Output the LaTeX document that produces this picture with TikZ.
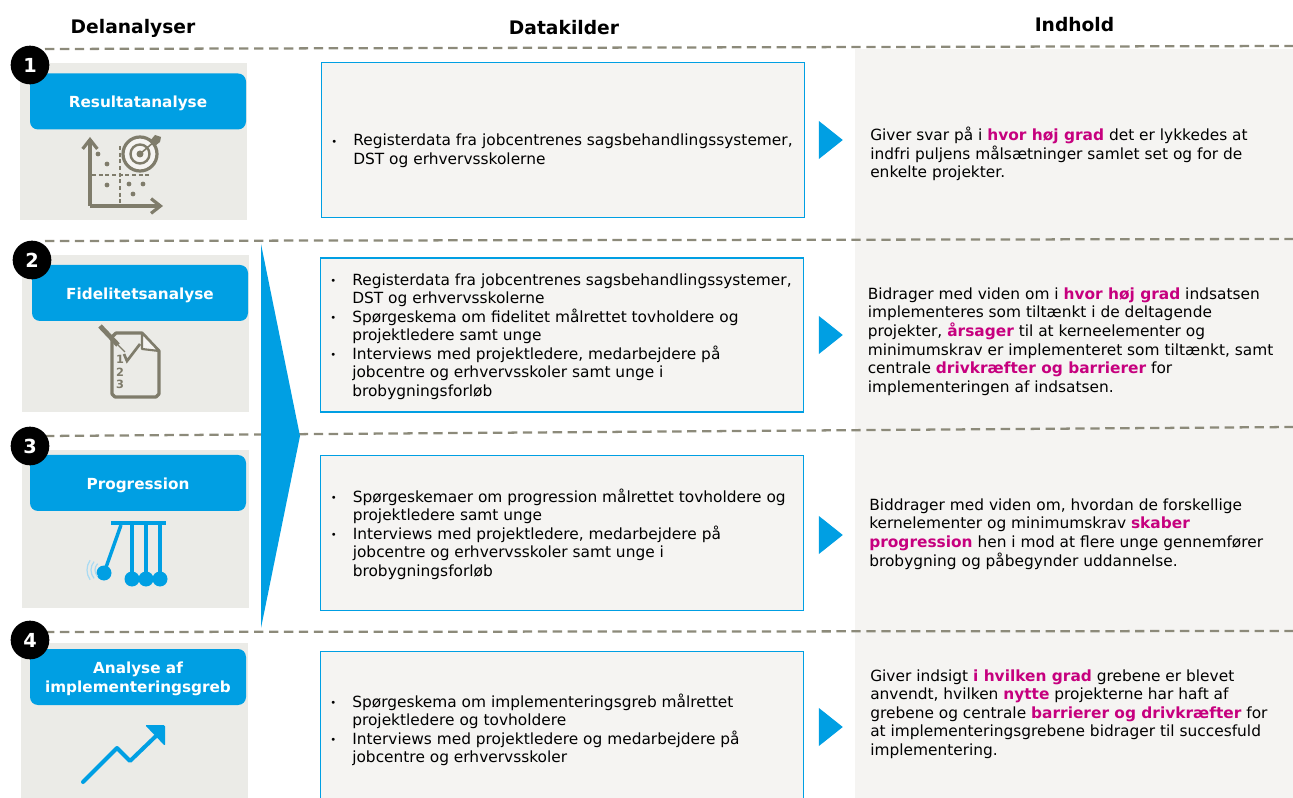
\documentclass[tikz,border=0pt]{standalone}
\usepackage{fontspec}
\setmainfont{DejaVu Sans}
\usepackage{tikz}
\usetikzlibrary{arrows.meta,shapes,positioning}
\definecolor{kblue}{HTML}{009FE3}
\definecolor{kpink}{HTML}{C6007E}
\definecolor{kgrey}{HTML}{7F7C6B}
\definecolor{kdash}{HTML}{8C8A7A}
\definecolor{kpanel}{HTML}{EBEBE7}
\definecolor{kback}{HTML}{F5F4F2}
\definecolor{kwave}{HTML}{A9DAF3}
\newcommand{\fremhaev}[1]{\textcolor{kpink}{\textbf{#1}}}
\newcommand{\punkt}{\leavevmode\llap{\raisebox{0.6pt}{\fontsize{7.5}{8}\selectfont\textbullet}\hspace{12pt}}}

\begin{document}
\begin{tikzpicture}[x=0.75pt, y=-0.75pt]
    \tikzstyle{panel} = [rectangle, fill=kpanel, minimum width=170.25pt, minimum height=117.75pt, inner sep=0pt]
    \tikzstyle{bluebox} = [rectangle, fill=kblue, rounded corners=6pt, minimum width=162pt, minimum height=42pt, inner sep=0pt]
    \tikzstyle{boxlabel} = [align=center, inner sep=0pt, text=white, font=\fontsize{11.45}{14}\selectfont\bfseries]
    \tikzstyle{numdot} = [circle, fill=black, minimum size=29pt, inner sep=0pt, text=white, font=\fontsize{14.5}{16}\selectfont\bfseries]
    \tikzstyle{databox} = [rectangle, draw=kblue, line width=1.1pt, fill=kback, minimum width=362.5pt, inner sep=0pt]
    \tikzstyle{bodytext} = [anchor=west, align=left, inner sep=0pt, font=\fontsize{11.55}{13.9}\selectfont]
    \tikzstyle{head} = [font=\fontsize{14}{16}\selectfont\bfseries]
    \tikzstyle{tip} = [isosceles triangle, isosceles triangle apex angle=77, fill=kblue, inner sep=0pt, minimum height=18pt]
    \tikzstyle{dashline} = [kdash, line width=1.7pt, dash pattern=on 7pt off 4.2pt]
    \tikzstyle{iconline} = [kgrey, line width=2.4pt]
    \tikzstyle{iconthin} = [kgrey, line width=0.9pt, dash pattern=on 3pt off 2pt]
    \tikzstyle{iconnum} = [text=kgrey, inner sep=0pt, font=\fontsize{8.5}{9}\selectfont\bfseries]
    \useasboundingbox (0,0) rectangle (1293,798);
    \clip (0,0) rectangle (1293,798);

    \node [rectangle, fill=kback, minimum width=328.5pt, minimum height=562pt, inner sep=0pt] (backdrop) at (1074,423.5) {};

    \node [panel] (panel1) at (133.5,141.5) {};
    \node [panel] (panel2) at (135,333.5) {};
    \node [panel] (panel3) at (135.5,529) {};
    \node [panel] (panel4) at (134.5,721) {};

    \node [bluebox] (result) at (138,101.5) {};
    \node [bluebox] (fidelitet) at (140,293) {};
    \node [bluebox] (progress) at (138,483) {};
    \node [bluebox] (greb) at (138,677) {};
    \node [boxlabel] (resultlabel) at (138,103) {Resultatanalyse};
    \node [boxlabel] (fidelitetlabel) at (140,295) {Fidelitetsanalyse};
    \node [boxlabel] (progresslabel) at (138,485) {Progression};
    \node [boxlabel] (greblabel) at (138,679) {Analyse af\\implementeringsgreb};

    \coordinate (dash1a) at (45,49);
    \coordinate (dash1b) at (1293,46);
    \coordinate (dash2a) at (45,241);
    \coordinate (dash2b) at (1293,239);
    \coordinate (dash3a) at (45,436);
    \coordinate (dash3b) at (1293,427);
    \coordinate (dash4a) at (45,632);
    \coordinate (dash4b) at (1293,631);
    \draw [dashline] (dash1a) -- (dash1b);
    \draw [dashline] (dash2a) -- (dash2b);
    \draw [dashline] (dash3a) -- (dash3b);
    \draw [dashline] (dash4a) -- (dash4b);

    \node [numdot] (num1) at (30,65) {1};
    \node [numdot] (num2) at (32,260) {2};
    \node [numdot] (num3) at (30,446) {3};
    \node [numdot] (num4) at (30,640) {4};

    \fill [kblue] (261,244) -- (300,436) -- (261,628) -- cycle;

    \node [head] (col1) at (133,28) {Delanalyser};
    \node [head] (col2) at (564,28) {Datakilder};
    \node [head] (col3) at (1074.5,25) {Indhold};

    \node [databox, minimum height=116.5pt] (data1) at (563,140) {};
    \node [databox, minimum height=115.5pt] (data2) at (562,335) {};
    \node [databox, minimum height=116.5pt] (data3) at (562,533) {};
    \node [databox, minimum height=116.5pt] (data4) at (562,729) {};

    \node [tip] (tip1) at (828,140) {};
    \node [tip] (tip2) at (828,335) {};
    \node [tip] (tip3) at (828,535) {};
    \node [tip] (tip4) at (828,727) {};

    \node [bodytext] (kilde1) at (353,151) {\punkt Registerdata fra jobcentrenes sagsbehandlingssystemer,\\DST og erhvervsskolerne};
    \node [bodytext] (kilde2) at (352,336.5) {\punkt Registerdata fra jobcentrenes sagsbehandlingssystemer,\\DST og erhvervsskolerne\\\punkt Spørgeskema om fidelitet målrettet tovholdere og\\projektledere samt unge\\\punkt Interviews med projektledere, medarbejdere på\\jobcentre og erhvervsskoler samt unge i\\brobygningsforløb};
    \node [bodytext] (kilde3) at (352.5,534) {\punkt Spørgeskemaer om progression målrettet tovholdere og\\projektledere samt unge\\\punkt Interviews med projektledere, medarbejdere på\\jobcentre og erhvervsskoler samt unge i\\brobygningsforløb};
    \node [bodytext] (kilde4) at (352,730) {\punkt Spørgeskema om implementeringsgreb målrettet\\projektledere og tovholdere\\\punkt Interviews med projektledere og medarbejdere på\\jobcentre og erhvervsskoler};

    \node [bodytext] (svar1) at (870,154) {Giver svar på i \fremhaev{hvor høj grad} det er lykkedes at\\indfri puljens målsætninger samlet set og for de\\enkelte projekter.};
    \node [bodytext] (svar2) at (867.5,341.5) {Bidrager med viden om i \fremhaev{hvor høj grad} indsatsen\\implementeres som tiltænkt i de deltagende\\projekter, \fremhaev{årsager} til at kerneelementer og\\minimumskrav er implementeret som tiltænkt, samt\\centrale \fremhaev{drivkræfter og barrierer} for\\implementeringen af indsatsen.};
    \node [bodytext] (svar3) at (869,534) {Biddrager med viden om, hvordan de forskellige\\kernelementer og minimumskrav \fremhaev{skaber}\\\fremhaev{progression} hen i mod at flere unge gennemfører\\brobygning og påbegynder uddannelse.};
    \node [bodytext] (svar4) at (870,714) {Giver indsigt \fremhaev{i hvilken grad} grebene er blevet\\anvendt, hvilken \fremhaev{nytte} projekterne har haft af\\grebene og centrale \fremhaev{barrierer og drivkræfter} for\\at implementeringsgrebene bidrager til succesfuld\\implementering.};

    \draw [iconline, -{Straight Barb[length=7pt, width=11pt]}] (90,206) -- (90,137);
    \draw [iconline, -{Straight Barb[length=7pt, width=11pt]}] (90,206) -- (163,206);
    \draw [iconthin] (92,175) -- (150,175);
    \draw [iconthin] (120,146) -- (120,205);
    \fill [kgrey] (98,154) circle (2.4);
    \fill [kgrey] (107,164) circle (2.4);
    \fill [kgrey] (107,185) circle (2.4);
    \fill [kgrey] (129,184) circle (2.4);
    \fill [kgrey] (143,184) circle (2.4);
    \fill [kgrey] (133,194) circle (2.4);
    \draw [kgrey, line width=2.4pt, fill=kback] (140,154) circle (17);
    \draw [kgrey, line width=1.8pt] (140,154) circle (9.5);
    \fill [kgrey] (140,154) circle (3.5);
    \draw [kgrey, line width=1.2pt] (140,154) -- (155,141);
    \fill [kgrey] (150,141) -- (155,135) -- (161,137) -- (160,142) -- (155,146) -- cycle;

    \draw [iconline, line join=round] (142,333) -- (116,333) -- (112,337) -- (112,394) -- (115,397) -- (156,397) -- (159,394) -- (159,351) -- cycle;
    \draw [kgrey, line width=1.6pt, line join=round, fill=kback] (142,333) -- (142,349) -- (159,351) -- cycle;
    \draw [kgrey, line width=3.6pt] (100,326) -- (118,345);
    \draw [kgrey, line width=1pt] (118,345) -- (125,352);
    \draw [kgrey, line width=2pt] (124,354) -- (127,361) -- (140,344);
    \node [iconnum] (one) at (120,359) {1};
    \node [iconnum] (two) at (120,372) {2};
    \node [iconnum] (three) at (120,384) {3};

    \fill [kblue] (111,521) rectangle (166,525);
    \draw [kblue, line width=2.6pt] (121,525) -- (104,573);
    \draw [kblue, line width=2.6pt] (132,525) -- (132,579);
    \draw [kblue, line width=2.6pt] (146,525) -- (146,579);
    \draw [kblue, line width=2.6pt] (160,525) -- (160,579);
    \fill [kblue] (104,573) circle (7.5);
    \fill [kblue] (132,579) circle (7.5);
    \fill [kblue] (146,579) circle (7.5);
    \fill [kblue] (160,579) circle (7.5);
    \draw [kwave, line width=0.9pt] (104,570) ++(135:9) arc (135:225:9);
    \draw [kwave, line width=0.9pt] (104,570) ++(140:13) arc (140:220:13);
    \draw [kwave, line width=0.9pt] (104,570) ++(145:17) arc (145:215:17);

    \draw [kblue, line width=3pt, line cap=round, line join=round] (83,782) -- (117,748) -- (130,761) -- (156,736);
    \fill [kblue, rounded corners=1pt] (145,725) -- (165,725) -- (165,746) -- cycle;
\end{tikzpicture}
\end{document}
